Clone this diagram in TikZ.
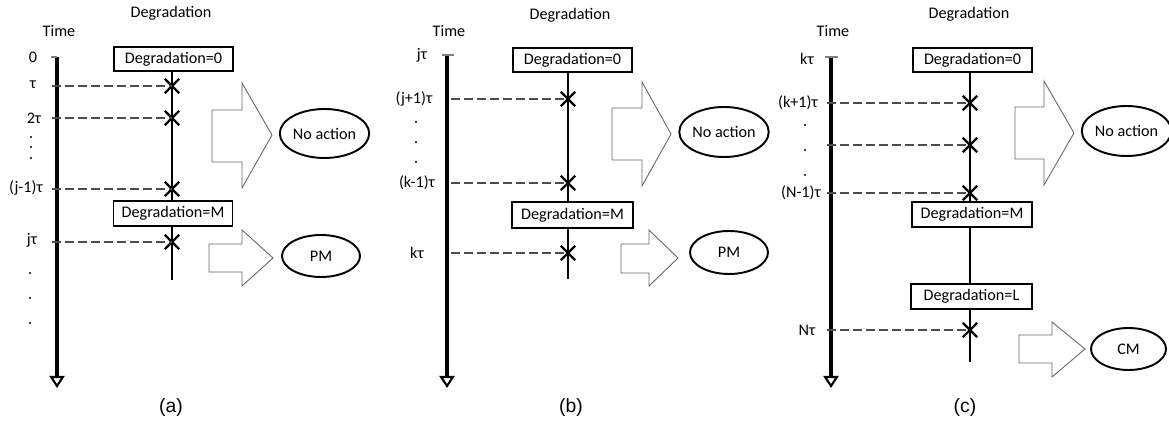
\documentclass[tikz,border=0pt]{standalone}
\usepackage{fontspec}
\setmainfont{Carlito}
\newfontfamily\capfont{Liberation Sans}
\usetikzlibrary{arrows.meta,shapes.geometric,shapes.misc}

\tikzset{
    timeaxis/.style={line width=2pt, -{Triangle[open, length=2.4mm, width=3mm, line width=1.2pt]}},
    tick/.style={gray, line width=0.6pt},
    degline/.style={line width=0.9pt},
    state/.style={draw, line width=1.1pt, minimum width=23.8mm, minimum height=4.9mm, inner sep=0pt},
    xmark/.style={cross out, draw, line width=1.3pt, minimum size=2.4mm, inner sep=0pt},
    inspect/.style={gray!60!black, line width=0.6pt, dash pattern=on 1.8mm off 0.8mm},
    actarrow/.style={gray!80!black, line width=0.5pt},
    decision/.style={ellipse, draw, line width=1.1pt, inner sep=0pt},
    caption/.style={font=\capfont\fontsize{11}{12}\selectfont}
}

\begin{document}
\begin{tikzpicture}[x=0.2mm, y=-0.2mm, font=\fontsize{9.2}{10}\selectfont]
    \useasboundingbox (0,0) rectangle (1169,424);

    % ---------- Panel (a) ----------
    % Draw the axes
    \node (heada) at (171,13) {Degradation};
    \node (timea) at (59,31) {Time};
    \coordinate (tsa) at (57,57);
    \coordinate (tea) at (57,388);
    \coordinate (tka) at (51,57);
    \draw[timeaxis] (tsa) -- (tea);
    \draw[tick] (tka) -- (tsa);

    % Time labels
    \node (la0) at (33,57) {0};
    \node (la1) at (33,85) {τ};
    \node (la2) at (34,118) {2τ};
    \node (la3) at (26,188) {(j-1)τ};
    \node (la4) at (32,240) {jτ};
    \foreach \y in {137,147,158}
        \fill (31,\y) circle (0.22mm);
    \foreach \y in {273,298,323}
        \fill (30,\y) circle (0.22mm);

    % Degradation states
    \node[state] (da0) at (173.5,59) {Degradation=0};
    \node[state] (dam) at (173,213.5) {Degradation=M};
    \coordinate (ea) at (172,280);
    \draw[degline] (da0.south -| ea) -- (dam.north -| ea);
    \draw[degline] (dam.south -| ea) -- (ea);

    % Inspections
    \foreach \n/\y in {1/86, 2/118, 3/189, 4/242}{
        \coordinate (ta\n) at (52,\y);
        \node[xmark] (xa\n) at (172,\y) {};
        \draw[inspect] (ta\n) -- (xa\n.center);
    }

    % Decisions
    \draw[actarrow] (212,110) -- (242,110) -- (242,83) -- (272,135) -- (242,188) -- (242,162) -- (212,162) -- cycle;
    \node[decision, minimum width=16.6mm, minimum height=9.8mm] (naa) at (324.5,133.5) {No action};
    \draw[actarrow] (209,244) -- (242,244) -- (242,230) -- (273,258) -- (242,286) -- (242,272) -- (209,272) -- cycle;
    \node[decision, minimum width=15.6mm, minimum height=8.4mm] (pma) at (321,256) {PM};
    \node[caption] (capa) at (171,408) {(a)};

    % ---------- Panel (b) ----------
    % Draw the axes
    \node (headb) at (570,15) {Degradation};
    \node (timeb) at (449,31) {Time};
    \coordinate (tsb) at (447,55);
    \coordinate (teb) at (447,388);
    \coordinate (tkb) at (442,55);
    \coordinate (tkb2) at (454,55);
    \draw[timeaxis] (tsb) -- (teb);
    \draw[tick] (tkb) -- (tkb2);

    % Time labels
    \node (lb0) at (422,55) {jτ};
    \node (lb1) at (414,99) {(j+1)τ};
    \node (lb2) at (417,183) {(k-1)τ};
    \node (lb3) at (417,253) {kτ};
    \foreach \y in {122,142,162}
        \fill (416,\y) circle (0.22mm);

    % Degradation states
    \node[state] (db0) at (572.5,60) {Degradation=0};
    \node[state, minimum width=24.2mm, minimum height=5.2mm] (dbm) at (572.5,215) {Degradation=M};
    \coordinate (eb) at (568,279);
    \draw[degline] (db0.south -| eb) -- (dbm.north -| eb);
    \draw[degline] (dbm.south -| eb) -- (eb);

    % Inspections
    \foreach \n/\y in {1/99, 2/183, 3/253}{
        \coordinate (tb\n) at (451,\y);
        \node[xmark] (xb\n) at (568,\y) {};
        \draw[inspect] (tb\n) -- (xb\n.center);
    }

    % Decisions
    \draw[actarrow] (612,108) -- (642,108) -- (642,82) -- (671,134) -- (642,186) -- (642,160) -- (612,160) -- cycle;
    \node[decision, minimum width=16.8mm, minimum height=10mm] (nab) at (724,132) {No action};
    \draw[actarrow] (621,244) -- (649,244) -- (649,230) -- (678,258) -- (649,286) -- (649,273) -- (621,273) -- cycle;
    \node[decision, minimum width=15.6mm, minimum height=8.6mm] (pmb) at (729,252.5) {PM};
    \node[caption] (capb) at (571,407) {(b)};

    % ---------- Panel (c) ----------
    % Draw the axes
    \node (headc) at (969,14) {Degradation};
    \node (timec) at (833,31) {Time};
    \coordinate (tsc) at (831,57);
    \coordinate (tec) at (831,388);
    \coordinate (tkc) at (825,57);
    \coordinate (tkc2) at (838,57);
    \draw[timeaxis] (tsc) -- (tec);
    \draw[tick] (tkc) -- (tkc2);

    % Time labels
    \node (lc0) at (807,59) {kτ};
    \node (lc1) at (798,103) {(k+1)τ};
    \node (lc2) at (801,193) {(N-1)τ};
    \node (lc3) at (807,330) {Nτ};
    \foreach \y in {125,150,175}
        \fill (805,\y) circle (0.22mm);

    % Degradation states
    \node[state] (dc0) at (972.5,60) {Degradation=0};
    \node[state, minimum width=24mm, minimum height=5mm] (dcm) at (972,214.5) {Degradation=M};
    \node[state, minimum width=24.2mm, minimum height=5mm] (dcl) at (971.5,296.5) {Degradation=L};
    \coordinate (ec) at (970,362);
    \draw[degline] (dc0.south -| ec) -- (dcm.north -| ec);
    \draw[degline] (dcm.south -| ec) -- (dcl.north -| ec);
    \draw[degline] (dcl.south -| ec) -- (ec);

    % Inspections
    \foreach \n/\y in {1/103, 2/145, 3/193, 4/330}{
        \coordinate (tc\n) at (827,\y);
        \node[xmark] (xc\n) at (970,\y) {};
        \draw[inspect] (tc\n) -- (xc\n.center);
    }

    % Decisions
    \draw[actarrow] (1015,107) -- (1044,107) -- (1044,81) -- (1074,133) -- (1044,185) -- (1044,159) -- (1015,159) -- cycle;
    \node[decision, minimum width=16.6mm, minimum height=10mm] (nac) at (1126.5,131) {No action};
    \draw[actarrow] (1019,335) -- (1052,335) -- (1052,322) -- (1085,349) -- (1052,377) -- (1052,363) -- (1019,363) -- cycle;
    \node[decision, minimum width=15mm, minimum height=8.4mm] (cmc) at (1128.5,349) {CM};
    \node[caption] (capc) at (965,407) {(c)};

\end{tikzpicture}
\end{document}
